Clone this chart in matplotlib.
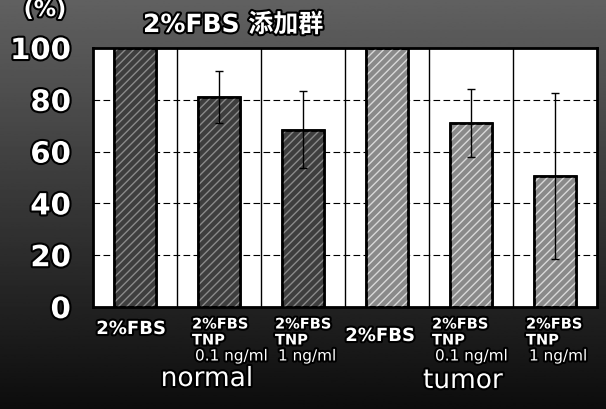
import numpy as np
import matplotlib
matplotlib.use('Agg')
import matplotlib.pyplot as plt
import matplotlib.patheffects as pe

# データ
groups = ['normal', 'tumor']
values = [100, 81, 68.5, 100, 71, 50.5]
errors = [0, 10, 15, 0, 13, 32]
line1 = ['2%FBS', '2%FBS', '2%FBS', '2%FBS', '2%FBS', '2%FBS']
line2 = ['', 'TNP', 'TNP', '', 'TNP', 'TNP']
line3 = ['', '0.1 ng/ml', '1 ng/ml', '', '0.1 ng/ml', '1 ng/ml']
yticks = [0, 20, 40, 60, 80, 100]

W, H = 606, 410
fig = plt.figure(figsize=(W / 100, H / 100), dpi=100)

# 背景 (暗いグラデーション)
bg = fig.add_axes([0, 0, 1, 1], zorder=-1)
grad = np.linspace(0.38, 0.05, 256).reshape(-1, 1)
bg.imshow(grad, cmap='gray', vmin=0, vmax=1, aspect='auto', extent=[0, 1, 0, 1])
bg.axis('off')

ax = fig.add_axes([93 / W, 102 / H, 504 / W, 259 / H])
ax.set_facecolor('white')
x = np.arange(len(values))

stroke = [pe.withStroke(linewidth=3, foreground='black')]

# 格子線
for yy in yticks[1:-1]:
    ax.axhline(yy, color='black', lw=0.8, ls=(0, (6, 3)), zorder=1)
for xx in x[:-1] + 0.5:
    ax.axvline(xx, color='black', lw=1.0, zorder=1)

fill = ['#3e3e3e'] * 3 + ['#8a8a8a'] * 3
hatchc = ['#8a8a8a'] * 3 + ['#d8d8d8'] * 3
ax.bar(x, values, width=0.5, color=fill, edgecolor='black', lw=1.8, zorder=2)
for i in range(len(values)):
    ax.bar(x[i], values[i], width=0.5, color='none', edgecolor=hatchc[i],
           hatch='////', lw=0, zorder=3)
ax.bar(x, values, width=0.5, color='none', edgecolor='black', lw=1.8, zorder=4)
ax.errorbar(x, values, yerr=errors, fmt='none', ecolor='black', elinewidth=1,
            capsize=3, capthick=1, zorder=5)

ax.set_xlim(-0.5, 5.5)
ax.set_ylim(0, 100)
ax.set_xticks([])
ax.set_yticks(yticks)
ax.set_yticklabels([str(v) for v in yticks], fontsize=21, fontweight='bold',
                   color='white')
for lbl in ax.get_yticklabels():
    lbl.set_path_effects(stroke)
ax.tick_params(axis='y', length=0, pad=16)
for s in ax.spines.values():
    s.set_color('black')
    s.set_linewidth(2)


def fy(ypix):
    return 1 - ypix / H


def fx(xpix):
    return xpix / W


# x軸ラベル
centers = [131, 217, 300, 380, 457, 551]
single_y = [330, None, None, 337, None, None]
for i in range(len(values)):
    if line2[i] == '':
        fig.text(fx(centers[i]), fy(single_y[i]), line1[i], ha='center', va='center',
                 fontsize=13, fontweight='bold', color='white', path_effects=stroke)
    else:
        left = centers[i] - 25
        fig.text(fx(left), fy(325), line1[i], ha='left', va='center', fontsize=10.5,
                 fontweight='bold', color='white', path_effects=stroke)
        fig.text(fx(left), fy(341), line2[i], ha='left', va='center', fontsize=10.5,
                 fontweight='bold', color='white', path_effects=stroke)
        fig.text(fx(left + 3), fy(357), line3[i], ha='left', va='center', fontsize=11,
                 color='white', path_effects=stroke)

fig.text(fx(207), fy(380), groups[0], ha='center', va='center', fontsize=19,
         color='white', path_effects=stroke)
fig.text(fx(463), fy(382), groups[1], ha='center', va='center', fontsize=19,
         color='white', path_effects=stroke)

# タイトル・単位
fig.text(fx(143), fy(26), '2%FBS 添加群', ha='left', va='center', fontsize=18,
         fontweight='bold', color='white', family=['DejaVu Sans', 'Noto Sans CJK JP'],
         path_effects=stroke)
fig.text(fx(45), fy(11), '(%)', ha='center', va='center', fontsize=16,
         fontweight='bold', color='white', path_effects=stroke)

fig.savefig('out.png', dpi=100)
